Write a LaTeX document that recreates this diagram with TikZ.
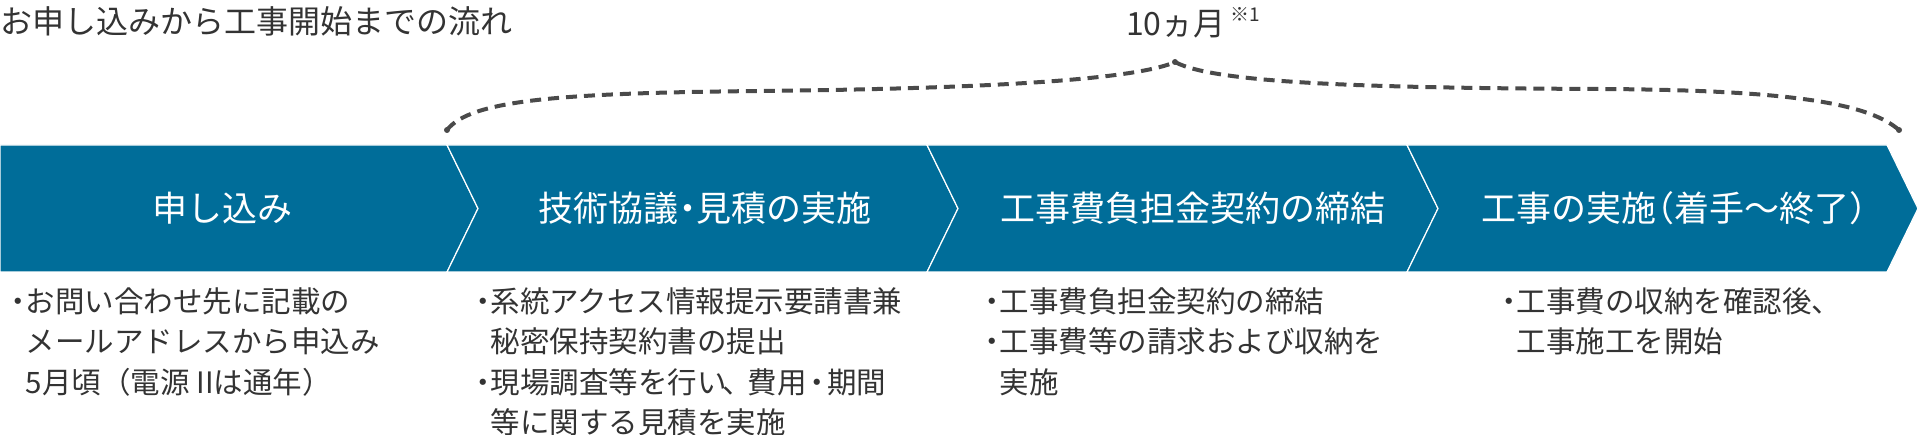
\documentclass[tikz,border=0pt]{standalone}
\usepackage{fontspec}
\setmainfont{Noto Sans CJK JP}
\usepackage{xcolor}
\definecolor{flowblue}{HTML}{006D99}
\definecolor{inkgray}{HTML}{333333}
\definecolor{bracegray}{HTML}{4A4A4A}
\tikzset{
    stagebox/.style={
        fill=flowblue, draw=white, line width=1.2pt, line join=miter
    },
    stagetitle/.style={
        anchor=base, inner sep=0pt, text=white,
        font=\fontsize{35}{40}\selectfont
    },
    notetext/.style={
        anchor=north west, inner sep=0pt, align=left, text=inkgray,
        font=\fontsize{29.5}{40.5}\selectfont
    },
    headtext/.style={
        anchor=base west, inner sep=0pt, text=inkgray,
        font=\fontsize{32}{36}\selectfont
    },
    spanline/.style={draw=bracegray, line width=4pt, dash pattern=on 11pt off 7pt},
    spandot/.style={fill=bracegray}
}
\newcommand{\bul}{\makebox[0.5em][c]{・}}
\newcommand{\ind}{\hspace*{0.5em}}
\newcommand{\tightmark}[2]{\makebox[#1][c]{#2}}
\newcommand{\openpar}{\makebox[0.5em][r]{（}}
\newcommand{\closepar}{\makebox[0.5em][l]{）}}
\newcommand{\firstline}{\rule{0pt}{30pt}}

\begin{document}
\begin{tikzpicture}[x=1pt, y=-1pt]
\useasboundingbox (0,0) rectangle (1920,435);

%% Heading and period label
\node[headtext] (heading) at (0,34) {お申し込みから工事開始までの流れ};
\node[headtext] (period) at (1126,36)
    {10ヵ月\hspace{5pt}\raisebox{14pt}{\fontsize{19}{19}\selectfont ※1}};

%% Dashed span over stages 2--4 -- peak at (1175, 62)
\draw[spanline] (447,130) .. controls (470,100) and (560,93) .. (760,91)
    .. controls (950,89) and (1130,82) .. (1175,62)
    .. controls (1215,84) and (1380,88) .. (1600,89)
    .. controls (1800,90) and (1870,105) .. (1899,130);
\fill[spandot] (447,130) circle (3pt);
\fill[spandot] (1175,62) circle (3pt);
\fill[spandot] (1899,130) circle (3pt);

%% Stage chevrons -- band from y=145 to y=272, tip depth 31
\draw[stagebox] (0,145) -- (447,145) -- (478,208.5) -- (447,272) -- (0,272) -- cycle;
\draw[stagebox] (447,145) -- (927,145) -- (958,208.5) -- (927,272) -- (447,272) -- (478,208.5) -- cycle;
\draw[stagebox] (927,145) -- (1407,145) -- (1438,208.5) -- (1407,272) -- (927,272) -- (958,208.5) -- cycle;
\draw[stagebox] (1407,145) -- (1887,145) -- (1918,208.5) -- (1887,272) -- (1407,272) -- (1438,208.5) -- cycle;

%% Stage titles
\node[stagetitle] (apply)    at (222,221.8)  {申し込み};
\node[stagetitle] (study)    at (705,221.8)  {技術協議\tightmark{0.5em}{・}見積の実施};
\node[stagetitle] (contract) at (1193,221.8) {工事費負担金契約の締結};
\node[stagetitle] (works)    at (1674,221.8) {工事の実施\openpar 着手〜終了\closepar};

%% Notes below each stage
\node[notetext] (applynote) at (11,282)
    {\firstline\bul お問い合わせ先に記載の\\\ind メールアドレスから申込み\\\ind 5月頃（電源 IIは通年）};
\node[notetext] (studynote) at (476,282)
    {\firstline\bul 系統アクセス情報提示要請書兼\\\ind 秘密保持契約書の提出\\\bul 現場調査等を行い\tightmark{0.7em}{、}費用\tightmark{0.7em}{・}期間\\\ind 等に関する見積を実施};
\node[notetext] (contractnote) at (985,282)
    {\firstline\bul 工事費負担金契約の締結\\\bul 工事費等の請求および収納を\\\ind 実施};
\node[notetext] (worksnote) at (1502,282)
    {\firstline\bul 工事費の収納を確認後、\\\ind 工事施工を開始};

\end{tikzpicture}
\end{document}
